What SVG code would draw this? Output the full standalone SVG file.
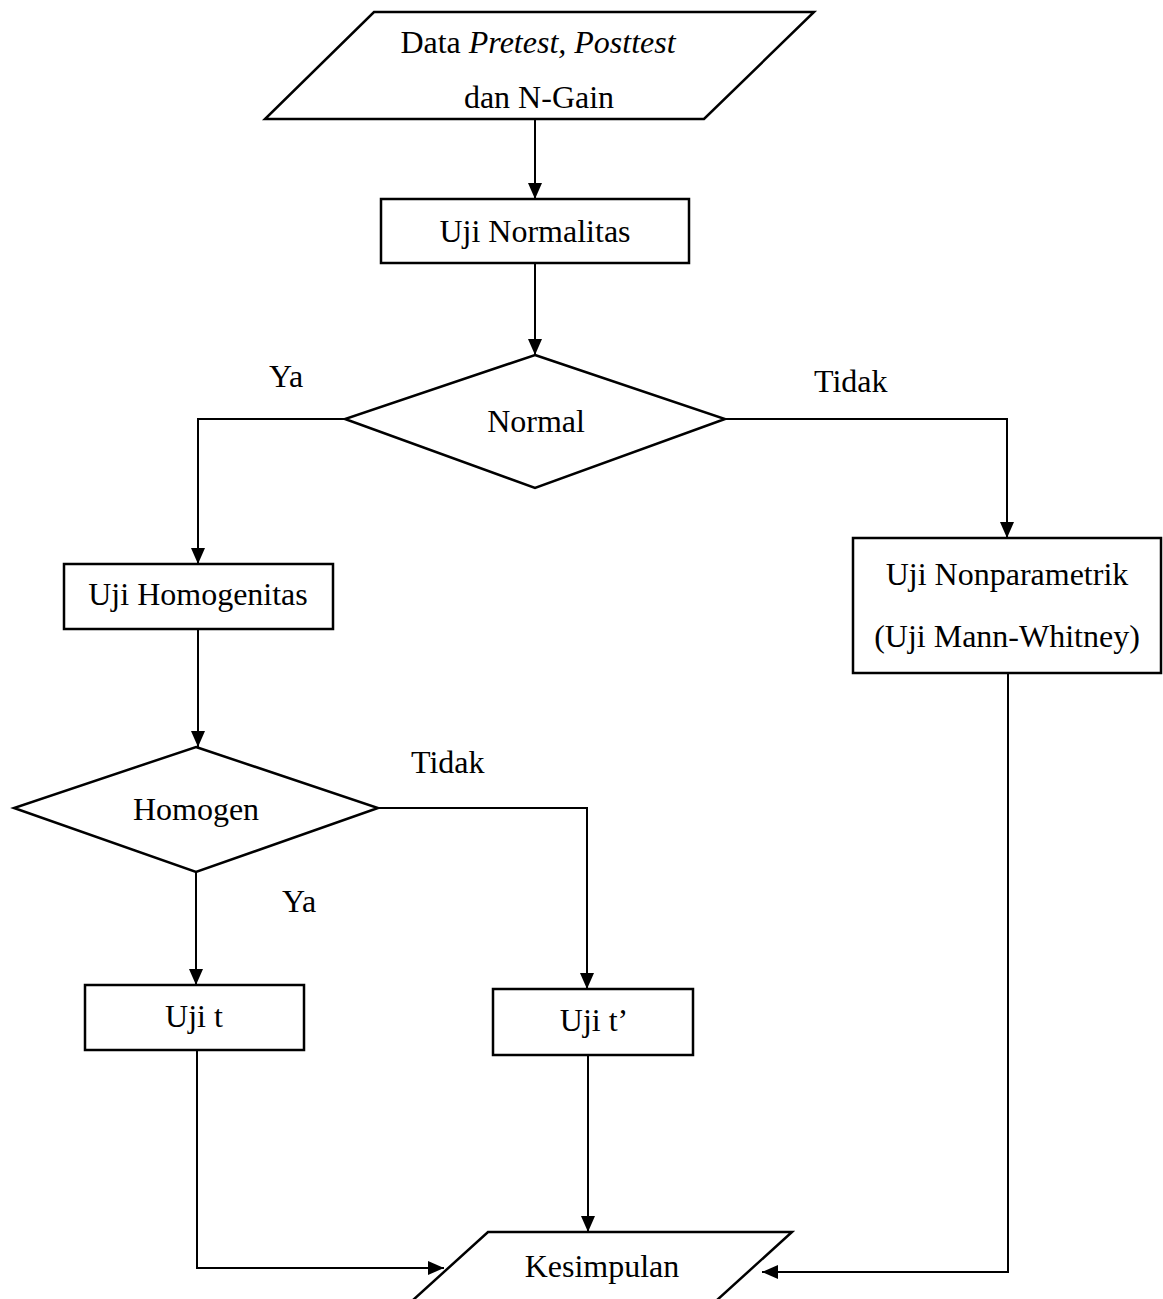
<svg xmlns="http://www.w3.org/2000/svg" width="1163" height="1299" viewBox="0 0 1163 1299">
<style>
.shape{fill:#fff;stroke:#000;stroke-width:2.5}
.conn{fill:none;stroke:#000;stroke-width:2}
text{font-family:"Liberation Serif","Times New Roman",serif;font-size:32px;fill:#000}
.c{text-anchor:middle}
.i{font-style:italic}
</style>
<defs>
<marker id="arrow" markerUnits="userSpaceOnUse" markerWidth="16" markerHeight="14" refX="16" refY="7" orient="auto">
<path d="M0,0 L16,7 L0,14 Z" fill="#000"/>
</marker>
</defs>
<rect width="1163" height="1299" fill="#fff"/>
<g id="connectors">
<path class="conn" d="M535,120 L535,199" marker-end="url(#arrow)"/>
<path class="conn" d="M535,263 L535,355" marker-end="url(#arrow)"/>
<path class="conn" d="M345,419 L198,419 L198,564" marker-end="url(#arrow)"/>
<path class="conn" d="M725,419 L1007,419 L1007,538" marker-end="url(#arrow)"/>
<path class="conn" d="M198,629 L198,747" marker-end="url(#arrow)"/>
<path class="conn" d="M196,872 L196,985" marker-end="url(#arrow)"/>
<path class="conn" d="M378,808 L587,808 L587,989" marker-end="url(#arrow)"/>
<path class="conn" d="M197,1050 L197,1268 L444,1268" marker-end="url(#arrow)"/>
<path class="conn" d="M588,1055 L588,1232" marker-end="url(#arrow)"/>
<path class="conn" d="M1008,673 L1008,1272 L762,1272" marker-end="url(#arrow)"/>
</g>
<g id="data-input">
<polygon class="shape" points="374,12 814,12 704,119 265,119"/>
<text class="c" x="538" y="53">Data <tspan class="i">Pretest, Posttest</tspan></text>
<text class="c" x="539" y="108">dan N-Gain</text>
</g>
<g id="uji-normalitas">
<rect class="shape" x="381" y="199" width="308" height="64"/>
<text class="c" x="535" y="242">Uji Normalitas</text>
</g>
<g id="normal">
<polygon class="shape" points="535,355 725,419 535,488 345,419"/>
<text class="c" x="536" y="432">Normal</text>
</g>
<g id="label-ya-1"><text x="269" y="387">Ya</text></g>
<g id="label-tidak-1"><text x="814" y="392">Tidak</text></g>
<g id="uji-homogenitas">
<rect class="shape" x="64" y="564" width="269" height="65"/>
<text class="c" x="198" y="605">Uji Homogenitas</text>
</g>
<g id="uji-nonparametrik">
<rect class="shape" x="853" y="538" width="308" height="135"/>
<text class="c" x="1007" y="585">Uji Nonparametrik</text>
<text class="c" x="1007" y="647">(Uji Mann-Whitney)</text>
</g>
<g id="homogen">
<polygon class="shape" points="196,747 378,808 196,872 14,808"/>
<text class="c" x="196" y="820">Homogen</text>
</g>
<g id="label-tidak-2"><text x="411" y="773">Tidak</text></g>
<g id="label-ya-2"><text x="282" y="912">Ya</text></g>
<g id="uji-t">
<rect class="shape" x="85" y="985" width="219" height="65"/>
<text class="c" x="194" y="1027">Uji t</text>
</g>
<g id="uji-t-prime">
<rect class="shape" x="493" y="989" width="200" height="66"/>
<text class="c" x="594" y="1031">Uji t’</text>
</g>
<g id="kesimpulan">
<polygon class="shape" points="488,1232 792,1232 684,1330 380,1330"/>
<text class="c" x="602" y="1277">Kesimpulan</text>
</g>
</svg>
